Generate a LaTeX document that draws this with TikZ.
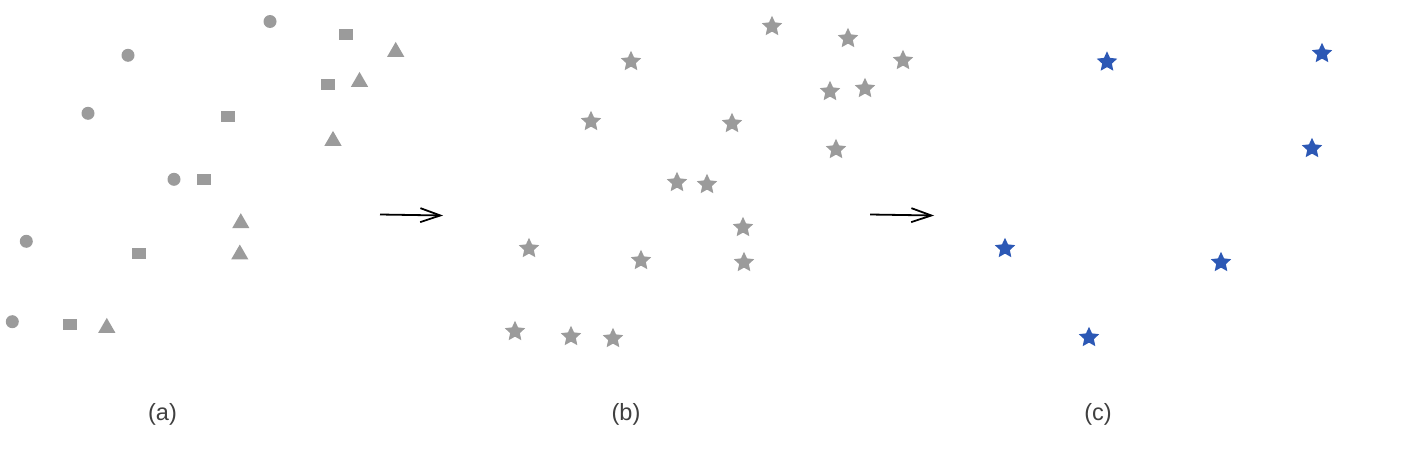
\documentclass[tikz,border=0pt]{standalone}
\usepackage{fontspec}
\setmainfont{Liberation Sans}
\usepackage{tikz}
\usetikzlibrary{shapes.geometric,arrows.meta}
\definecolor{ptgray}{RGB}{155,155,155}
\definecolor{ptblue}{RGB}{44,88,181}
\definecolor{lblgray}{RGB}{64,64,64}

\begin{document}
\begin{tikzpicture}[x=1pt,y=-1pt,
  dot/.style={circle,fill=ptgray,inner sep=0pt,minimum size=13pt},
  sq/.style={rectangle,fill=ptgray,inner sep=0pt,minimum width=14pt,minimum height=11pt},
  tri/.style={regular polygon,regular polygon sides=3,fill=ptgray,inner sep=0pt,minimum size=19.8pt},
  pt/.style={star,star points=5,star point ratio=2.1,fill=ptgray,inner sep=0pt,minimum size=21.5pt},
  sel/.style={pt,fill=ptblue},
  lbl/.style={inner sep=0pt,text=lblgray,font=\fontsize{23.5}{28}\selectfont}]
 \useasboundingbox (0,0) rectangle (1404,466);

 % (a)
 \node[dot] (c1) at(270,21.5) {};
 \node[dot] (c2) at(128,55.3) {};
 \node[dot] (c3) at(88,113.3) {};
 \node[dot] (c4) at(174,179.3) {};
 \node[dot] (c5) at(26.3,241.3) {};
 \node[dot] (c6) at(12.3,321.7) {};

 \node[sq] (s1) at(346,34.3) {};
 \node[sq] (s2) at(328,84.3) {};
 \node[sq] (s3) at(228,116.3) {};
 \node[sq] (s4) at(203.7,179.3) {};
 \node[sq] (s5) at(139.3,253.7) {};
 \node[sq] (s6) at(70,324.3) {};

 \node[tri] (t1) at(395.7,51.8) {};
 \node[tri] (t2) at(359.5,81.8) {};
 \node[tri] (t3) at(333,140.8) {};
 \node[tri] (t4) at(240.8,223.1) {};
 \node[tri] (t5) at(239.8,254.4) {};
 \node[tri] (t6) at(106.8,327.8) {};

 % (b)
 \node[pt] (b1) at(772,26.5) {};
 \node[pt] (b2) at(848,38.5) {};
 \node[pt] (b3) at(631,61.5) {};
 \node[pt] (b4) at(903,60.5) {};
 \node[pt] (b5) at(830,91.5) {};
 \node[pt] (b6) at(865,88.5) {};
 \node[pt] (b7) at(591,121.5) {};
 \node[pt] (b8) at(732,123.5) {};
 \node[pt] (b9) at(836,149.5) {};
 \node[pt] (b10) at(677,182.5) {};
 \node[pt] (b11) at(707,184.5) {};
 \node[pt] (b12) at(743,227.5) {};
 \node[pt] (b13) at(529,248.5) {};
 \node[pt] (b14) at(641,260.5) {};
 \node[pt] (b15) at(744,262.5) {};
 \node[pt] (b16) at(515,331.5) {};
 \node[pt] (b17) at(571,336.5) {};
 \node[pt] (b18) at(613,338.5) {};

 % (c)
 \node[sel] (k1) at(1107,62) {};
 \node[sel] (k2) at(1322,53.5) {};
 \node[sel] (k3) at(1312,148.5) {};
 \node[sel] (k4) at(1005,248.5) {};
 \node[sel] (k5) at(1221,262.5) {};
 \node[sel] (k6) at(1089,337.5) {};

 \coordinate (AB1) at(380,214.5);
 \coordinate (AB2) at(443,215.5);
 \coordinate (BC1) at(870,214.5);
 \coordinate (BC2) at(934,215.5);
 \draw[line width=1.8pt,-{Straight Barb[length=20pt,width=14pt,line width=1.8pt]}] (AB1) -- (AB2);
 \draw[line width=1.8pt,-{Straight Barb[length=20pt,width=14pt,line width=1.8pt]}] (BC1) -- (BC2);

 \node[lbl] (la) at(162.5,414) {(a)};
 \node[lbl] (lb) at(626,414) {(b)};
 \node[lbl] (lc) at(1098,414) {(c)};

\end{tikzpicture}
\end{document}
